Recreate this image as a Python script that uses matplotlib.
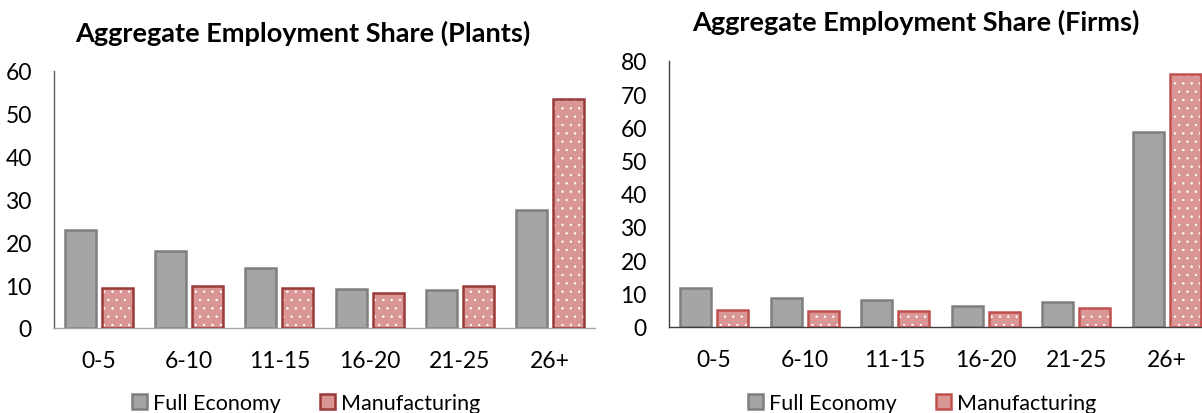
import numpy as np
import matplotlib
matplotlib.use('Agg')
import matplotlib.pyplot as plt
from matplotlib.patches import Patch

plt.rcParams['font.family'] = ['Lato', 'DejaVu Sans']
plt.rcParams['hatch.linewidth'] = 0.5

# data
categories = ['0-5', '6-10', '11-15', '16-20', '21-25', '26+']
plants_full = [22.9, 17.9, 13.9, 9.1, 8.8, 27.5]
plants_manuf = [9.4, 9.8, 9.4, 8.2, 9.8, 53.4]
firms_full = [11.5, 8.6, 7.9, 6.3, 7.5, 58.7]
firms_manuf = [5.1, 4.6, 4.6, 4.3, 5.5, 76.0]

gray_fill = '#a5a5a5'
gray_edge = '#7f7f7f'
pink_fill = '#d99694'

W, H = 1202, 414
fig = plt.figure(figsize=(W / 100, H / 100), dpi=100)

ax1 = fig.add_axes([54 / W, 1 - 329 / H, 541 / W, 257 / H])
ax2 = fig.add_axes([669 / W, 1 - 327.5 / H, 543 / W, 265.5 / H])

x = np.arange(len(categories))
bw = 0.345
off = 0.205


def draw(ax, full, manuf, red_edge, ymax, spine_col, xspine_col):
    ax.bar(x - off, full, bw, color=gray_fill, edgecolor=gray_edge, linewidth=1.8, zorder=2)
    # dotted fill: white dots first, then the red outline on top
    ax.bar(x + off, manuf, bw, color=pink_fill, edgecolor='white', hatch='..', linewidth=0, zorder=2)
    ax.bar(x + off, manuf, bw, color='none', edgecolor=red_edge, linewidth=1.8, zorder=3)
    ax.set_xlim(-0.5, 5.5)
    ax.set_ylim(0, ymax)
    ax.set_yticks(range(0, ymax + 1, 10))
    ax.set_xticks(x)
    ax.set_xticklabels(categories)
    ax.tick_params(axis='both', length=0, labelsize=16.5)
    ax.tick_params(axis='y', pad=16)
    ax.tick_params(axis='x', pad=16)
    for s in ['top', 'right']:
        ax.spines[s].set_visible(False)
    ax.spines['left'].set_color(spine_col)
    ax.spines['bottom'].set_color(xspine_col)
    ax.spines['left'].set_linewidth(1.0)
    ax.spines['bottom'].set_linewidth(1.0)


draw(ax1, plants_full, plants_manuf, '#9a3a38', 60, '#595959', '#a6a6a6')
draw(ax2, firms_full, firms_manuf, '#c0504d', 80, '#404040', '#404040')

fig.text(303 / W, 1 - 33 / H, 'Aggregate Employment Share (Plants)', ha='center', va='center',
         fontsize=19.5, fontweight='bold')
fig.text(916 / W, 1 - 22 / H, 'Aggregate Employment Share (Firms)', ha='center', va='center',
         fontsize=19.5, fontweight='bold')

# legends
for cx, red_edge in [(306, '#9a3a38'), (922, '#c0504d')]:
    handles = [Patch(facecolor=gray_fill, edgecolor=gray_edge, linewidth=1.8, label='Full Economy'),
               Patch(facecolor=pink_fill, edgecolor=red_edge, linewidth=1.8, label='Manufacturing')]
    fig.legend(handles=handles, loc='center', bbox_to_anchor=(cx / W, 1 - 404 / H), ncol=2,
               frameon=False, fontsize=15.5, handlelength=0.7, handleheight=0.7,
               handletextpad=0.3, columnspacing=1.8, borderaxespad=0)

fig.savefig('out.png', dpi=100)
